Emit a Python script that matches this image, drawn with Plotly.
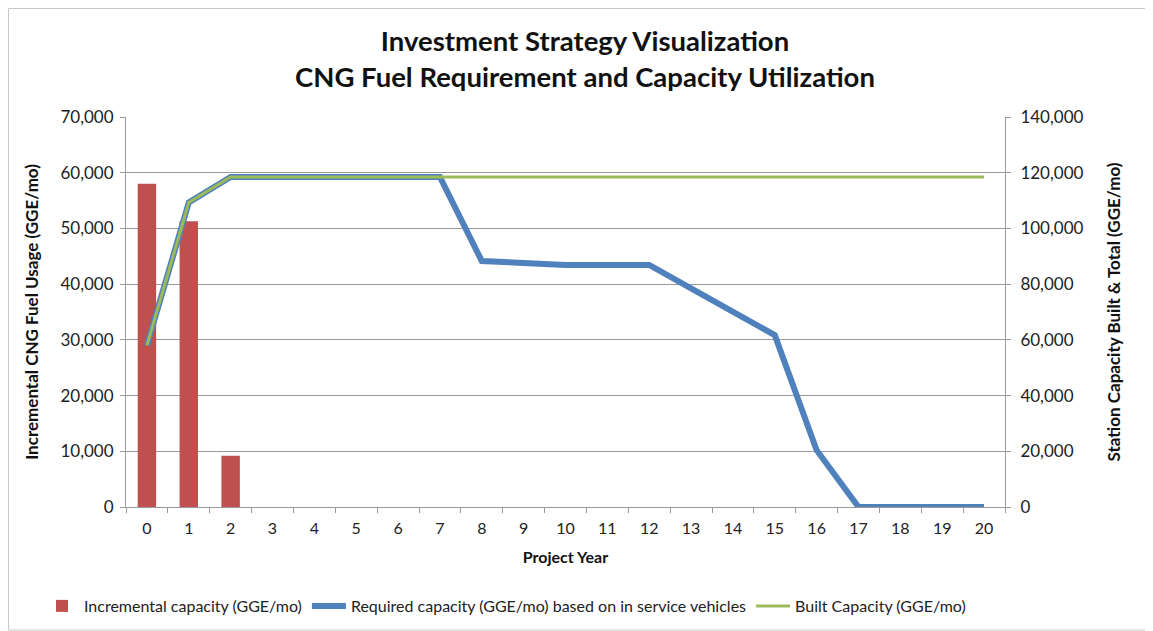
import plotly.graph_objects as go

years = list(range(21))
year_labels = [str(y) for y in years]
incremental = [58000, 51300, 9200] + [None] * 18
required = [58000, 109300, 118500, 118500, 118500, 118500, 118500, 118500,
            88300, 87600, 86900, 86900, 86900, 78500, 70200, 61700, 20400,
            0, 0, 0, 0]
built = [58000, 109300, 118500] + [118500] * 18

FONT = "Lato, 'Open Sans', sans-serif"
GRID = "#9a9a9a"

fig = go.Figure()
fig.add_trace(go.Bar(x=year_labels, y=incremental, name="Incremental capacity (GGE/mo)",
                     marker=dict(color="#C0504D", line=dict(width=0)), yaxis="y"))
fig.add_trace(go.Scatter(x=year_labels, y=required, mode="lines",
                         name="Required capacity (GGE/mo) based on in service vehicles",
                         line=dict(color="#4F81BD", width=6), yaxis="y2"))
fig.add_trace(go.Scatter(x=year_labels, y=built, mode="lines",
                         name="Built Capacity (GGE/mo)",
                         line=dict(color="#9BBB59", width=3), yaxis="y2"))

# page body has an 8px margin; figure coordinates are page coords minus 8
OFF = 8
L, R, T, B = 126 - OFF, 1005 - OFF, 117 - OFF, 507 - OFF
W, H = 1153 - OFF, 631 - OFF
pw, ph = R - L, B - T

fig.update_layout(
    width=W, height=H, autosize=False,
    margin=dict(l=L, r=W - R, t=T, b=H - B, autoexpand=False),
    paper_bgcolor="white", plot_bgcolor="white",
    font=dict(family=FONT, size=16, color="#222"),
    title=dict(text="<b>Investment Strategy Visualization<br>CNG Fuel Requirement and Capacity Utilization</b>",
               x=(585 - OFF) / W, xanchor="center", y=1 - (51 - OFF) / H, yanchor="middle",
               font=dict(family=FONT, size=27.5, color="#111")),
    bargap=0.56,
    showlegend=True,
    legend=dict(orientation="h", x=(40 - OFF - L) / pw, xanchor="left",
                y=-99 / ph, yanchor="middle",
                font=dict(family=FONT, size=16, color="#222"),
                traceorder="normal", itemwidth=34, bgcolor="rgba(0,0,0,0)"),
    xaxis=dict(type="category", range=[-0.5, 20.5], showgrid=False,
               showline=True, linecolor=GRID, linewidth=1, automargin=False,
               ticks="outside", tickson="boundaries", ticklen=5, tickcolor=GRID,
               tickangle=0, dtick=1, ticklabelstandoff=7,
               tickfont=dict(size=16, color="#222"),
               title=dict(text="<b>Project Year</b>", font=dict(size=16, color="#111"), standoff=15)),
    yaxis=dict(range=[0, 70000], dtick=10000, tickformat=",d", showgrid=True,
               gridcolor=GRID, gridwidth=1, showline=True, linecolor=GRID,
               automargin=False, ticklabelstandoff=3,
               ticks="outside", ticklen=5, tickcolor=GRID, zeroline=False,
               tickfont=dict(size=17, color="#222"),
               title=dict(text="<b>Incremental CNG Fuel Usage (GGE/mo)</b>",
                          font=dict(size=17, color="#111"), standoff=17)),
    yaxis2=dict(range=[0, 140000], dtick=20000, tickformat=",d", overlaying="y",
                side="right", showgrid=False, showline=True, linecolor=GRID,
                automargin=False, ticklabelstandoff=6,
                ticks="outside", ticklen=5, tickcolor=GRID, zeroline=False,
                tickfont=dict(size=17, color="#222"),
                title=dict(text="<b>Station Capacity Built & Total (GGE/mo)</b>",
                           font=dict(size=17, color="#111"), standoff=25)),
)

fig.add_shape(type="rect", xref="paper", yref="paper",
              x0=(0.5 - L) / pw, x1=(W - 1 - L) / pw,
              y0=(B - (H - 1)) / ph, y1=(B - 0.5) / ph,
              line=dict(color="#c8c8c8", width=1), layer="below")

fig.write_html("out.html")
